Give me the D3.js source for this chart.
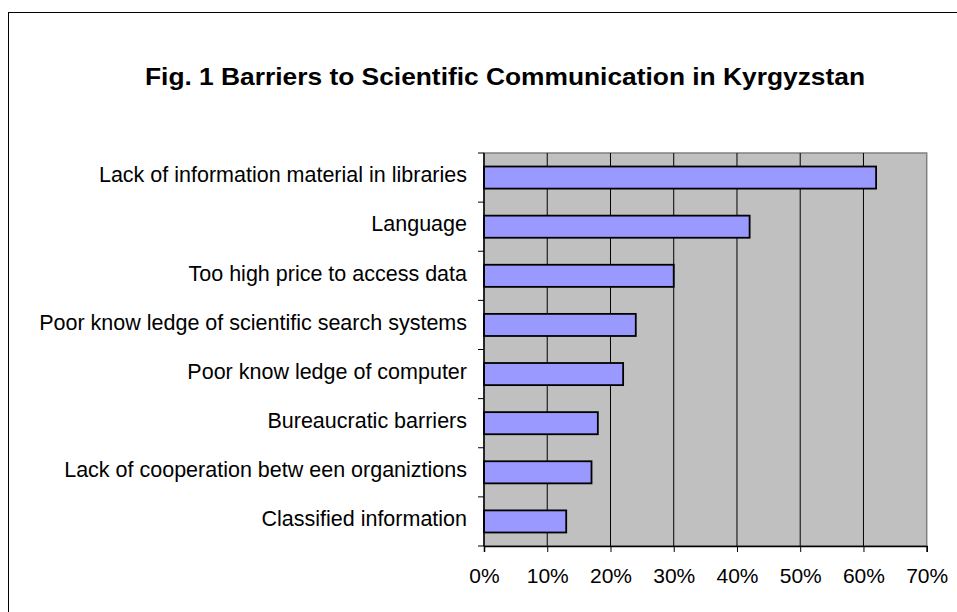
<!DOCTYPE html>
<html>
<head>
<meta charset="utf-8">
<script src="https://cdn.jsdelivr.net/npm/d3@7"></script>
<style>
  body { margin: 0; background: #fff; }
  text { font-family: Arial, "Liberation Sans", sans-serif; }
</style>
</head>
<body>
<div id="chart"></div>
<script>
// chart data
let categories = [
  "Lack of information material in libraries",
  "Language",
  "Too high price to access data",
  "Poor know ledge of scientific search systems",
  "Poor know ledge of computer",
  "Bureaucratic barriers",
  "Lack of cooperation betw een organiztions",
  "Classified information"
];
let shares = [62, 42, 30, 24, 22, 18, 17, 13];
let xTicks = [0, 10, 20, 30, 40, 50, 60, 70];
let title = "Fig. 1 Barriers to Scientific Communication in Kyrgyzstan";

let width = 957;
let height = 612;
let plotLeft = 484, plotRight = 926.7, plotTop = 153, plotBottom = 546;

var svg = d3.select("#chart")
  .append("svg")
  .attr("width", width)
  .attr("height", height);

// outer chart frame (runs off the right/bottom like the original)
svg.append("rect")
  .attr("x", 8.5).attr("y", 12.5)
  .attr("width", 1000).attr("height", 700)
  .attr("fill", "#fff")
  .attr("stroke", "#000")
  .attr("stroke-width", 1);

svg.append("text")
  .attr("x", 505)
  .attr("y", 85)
  .attr("text-anchor", "middle")
  .style("font-size", "24px")
  .style("font-weight", "bold")
  .attr("textLength", 720)
  .attr("lengthAdjust", "spacingAndGlyphs")
  .text(title);

let x = d3.scaleLinear().domain([0, 70]).range([plotLeft, plotRight]);
let y = d3.scaleBand().domain(categories).range([plotTop, plotBottom])
  .paddingInner(0.55).paddingOuter(0.275);

// plot background
svg.append("rect")
  .attr("x", plotLeft).attr("y", plotTop)
  .attr("width", plotRight - plotLeft).attr("height", plotBottom - plotTop)
  .attr("fill", "#c0c0c0")
  .attr("stroke", "#808080")
  .attr("stroke-width", 1.5);

// vertical gridlines
svg.selectAll(".grid")
  .data(xTicks.slice(1, -1))
  .enter().append("line")
  .attr("x1", d => x(d)).attr("x2", d => x(d))
  .attr("y1", plotTop).attr("y2", plotBottom)
  .attr("stroke", "#000")
  .attr("stroke-width", 1);

// bars
svg.selectAll(".bar")
  .data(shares)
  .enter().append("rect")
  .attr("x", x(0))
  .attr("y", (d, i) => y(categories[i]))
  .attr("width", d => x(d) - x(0))
  .attr("height", y.bandwidth())
  .attr("fill", "#9999ff")
  .attr("stroke", "#000")
  .attr("stroke-width", 1.8);

// x axis
let xAxis = d3.axisBottom(x).tickValues(xTicks)
  .tickFormat(d => d + "%").tickSize(6).tickPadding(16);
let gx = svg.append("g")
  .attr("transform", "translate(0," + plotBottom + ")")
  .call(xAxis);
gx.select(".domain").attr("stroke", "#000").attr("stroke-width", 1.5);
gx.selectAll("text").style("font-size", "21px").attr("fill", "#000");

// y axis line with ticks between categories
svg.append("line")
  .attr("x1", plotLeft).attr("x2", plotLeft)
  .attr("y1", plotTop).attr("y2", plotBottom)
  .attr("stroke", "#000").attr("stroke-width", 1.5);
let boundaries = d3.range(categories.length + 1).map(i => plotTop + i * (plotBottom - plotTop) / categories.length);
svg.selectAll(".ytick")
  .data(boundaries)
  .enter().append("line")
  .attr("x1", plotLeft - 6).attr("x2", plotLeft)
  .attr("y1", d => d).attr("y2", d => d)
  .attr("stroke", "#000");

// category labels
svg.selectAll(".ylabel")
  .data(categories)
  .enter().append("text")
  .attr("x", 467)
  .attr("y", d => y(d) + y.bandwidth() / 2)
  .attr("dy", "0.22em")
  .attr("text-anchor", "end")
  .style("font-size", "21.5px")
  .text(d => d);
</script>
</body>
</html>
